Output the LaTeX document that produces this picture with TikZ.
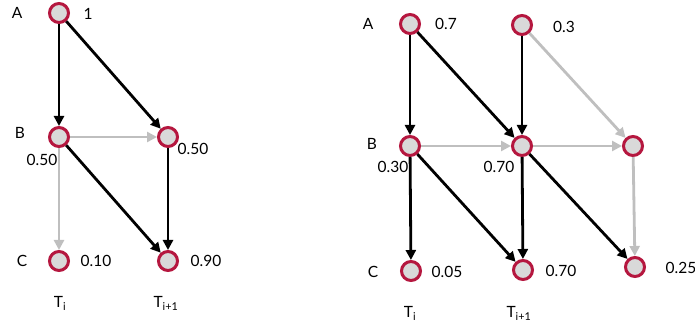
\documentclass[tikz,border=0pt]{standalone}
\usepackage{fontspec}
\setmainfont{Lato}
\usetikzlibrary{
  arrows.meta,
  positioning
}
\definecolor{dgRim}{HTML}{B5173F}
\definecolor{dgFill}{HTML}{D9D9D9}
\definecolor{dgGray}{HTML}{BFBFBF}
\tikzset{
  snode/.style={
    circle, draw=dgRim, fill=dgFill, line width=3pt,
    minimum size=19pt, inner sep=0pt
  },
  lbl/.style={font=\fontsize{15.5}{17}\selectfont, inner sep=0pt},
  hot/.style={-{Triangle[length=10pt,width=10pt]}, line width=2.8pt, black},
  cold/.style={-{Triangle[length=10pt,width=10pt]}, line width=2.8pt, dgGray}
}

\begin{document}
\begin{tikzpicture}[x=1pt, y=-1pt]
  \useasboundingbox (0,0) rectangle (695,328);
  % left graph
  \node[snode] (la) at (59,13) {};
  \node[snode] (lb) at (59,137) {};
  \node[snode] (lb2) at (168,137) {};
  \node[snode] (lc) at (59,261) {};
  \node[snode] (lc2) at (168,261) {};
  \draw[hot] (la) -- (lb);
  \draw[hot] (la) -- (lb2);
  \draw[cold] (lb) -- (lb2);
  \draw[cold] (lb) -- (lc);
  \draw[hot] (lb) -- (lc2);
  \draw[hot] (lb2) -- (lc2);
  \node[lbl] (laname) at (17,13) {A};
  \node[lbl] (lbname) at (20,133) {B};
  \node[lbl] (lcname) at (22,261) {C};
  \node[lbl] (lav) at (88,14) {1};
  \node[lbl] (lbv) at (42,160) {0.50};
  \node[lbl] (lb2v) at (193,149) {0.50};
  \node[lbl] (lcv) at (96,261) {0.10};
  \node[lbl] (lc2v) at (206,261) {0.90};
  \node[lbl] (lti) at (60,303) {T\textsubscript{i}};
  \node[lbl] (ltn) at (166,303) {T\textsubscript{i+1}};
  % right graph
  \node[snode] (ra) at (410,24) {};
  \node[snode] (ra2) at (522,25) {};
  \node[snode] (rb) at (410,146) {};
  \node[snode] (rb2) at (522,146) {};
  \node[snode] (rb3) at (633,146) {};
  \node[snode] (rc) at (411,271) {};
  \node[snode] (rc2) at (523,270) {};
  \node[snode] (rc3) at (635,267) {};
  \draw[hot] (ra) -- (rb);
  \draw[hot] (ra) -- (rb2);
  \draw[hot] (ra2) -- (rb2);
  \draw[cold] (ra2) -- (rb3);
  \draw[cold] (rb) -- (rb2);
  \draw[cold] (rb2) -- (rb3);
  \draw[hot] (rb) -- (rc);
  \draw[hot] (rb) -- (rc2);
  \draw[hot] (rb2) -- (rc2);
  \draw[hot] (rb2) -- (rc3);
  \draw[cold] (rb3) -- (rc3);
  \node[lbl] (raname) at (368,24) {A};
  \node[lbl] (rbname) at (372,144) {B};
  \node[lbl] (rcname) at (373,272) {C};
  \node[lbl] (rav) at (446,24) {0.7};
  \node[lbl] (ra2v) at (564,27) {0.3};
  \node[lbl] (rbv) at (393,167) {0.30};
  \node[lbl] (rb2v) at (499,167) {0.70};
  \node[lbl] (rcv) at (447,272) {0.05};
  \node[lbl] (rc2v) at (561,271) {0.70};
  \node[lbl] (rc3v) at (681,268) {0.25};
  \node[lbl] (rti) at (410,313) {T\textsubscript{i}};
  \node[lbl] (rtn) at (519,313) {T\textsubscript{i+1}};
\end{tikzpicture}
\end{document}
